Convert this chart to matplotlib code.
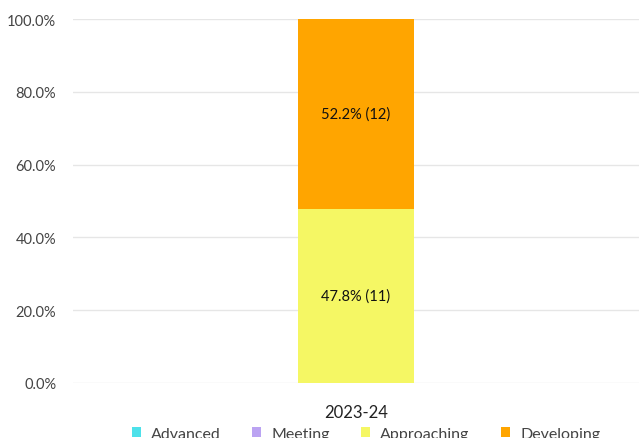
import matplotlib.pyplot as plt
from matplotlib.ticker import PercentFormatter

plt.rcParams['font.family'] = ['Lato', 'DejaVu Sans']

years = ['2023-24']
levels = ['Advanced', 'Meeting', 'Approaching', 'Developing']
percents = {
    'Advanced': [0.0],
    'Meeting': [0.0],
    'Approaching': [47.8],
    'Developing': [52.2],
}
counts = {
    'Advanced': [0],
    'Meeting': [0],
    'Approaching': [11],
    'Developing': [12],
}
colors = {
    'Advanced': '#4de1ea',
    'Meeting': '#bba3f2',
    'Approaching': '#f5f764',
    'Developing': '#ffa500',
}

fig = plt.figure(figsize=(6.4, 4.39), dpi=100)
ax = fig.add_axes([0.114, 0.1253, 0.884, 0.8291])

bottom = [0.0] * len(years)
for lvl in levels:
    vals = percents[lvl]
    bars = ax.bar(years, vals, width=0.205, bottom=bottom, color=colors[lvl], label=lvl)
    for rect, v, c in zip(bars, vals, counts[lvl]):
        if v > 0:
            ax.text(rect.get_x() + rect.get_width() / 2, rect.get_y() + v / 2,
                    f'{v:.1f}% ({c})', ha='center', va='center', fontsize=10.5, color='#111111')
    bottom = [b + v for b, v in zip(bottom, vals)]

ax.set_ylim(0, 100)
ax.set_xlim(-0.5, 0.5)
ax.set_yticks(range(0, 101, 20))
ax.yaxis.set_major_formatter(PercentFormatter(decimals=1))
ax.grid(axis='y', color='#e6e6e6', linewidth=1)
ax.set_axisbelow(True)
for s in ax.spines.values():
    s.set_visible(False)
ax.tick_params(axis='y', length=0, labelsize=10.5, labelcolor='#444444', pad=12)
ax.tick_params(axis='x', length=0, labelsize=12, labelcolor='#222222', pad=15)

fig.legend(loc='center', bbox_to_anchor=(0.572, 0.01), ncol=4, frameon=False,
           handlelength=0.56, handleheight=0.56, handletextpad=0.65, columnspacing=1.95,
           fontsize=11.5, labelcolor='#444444')

fig.savefig('out.png', dpi=100)
